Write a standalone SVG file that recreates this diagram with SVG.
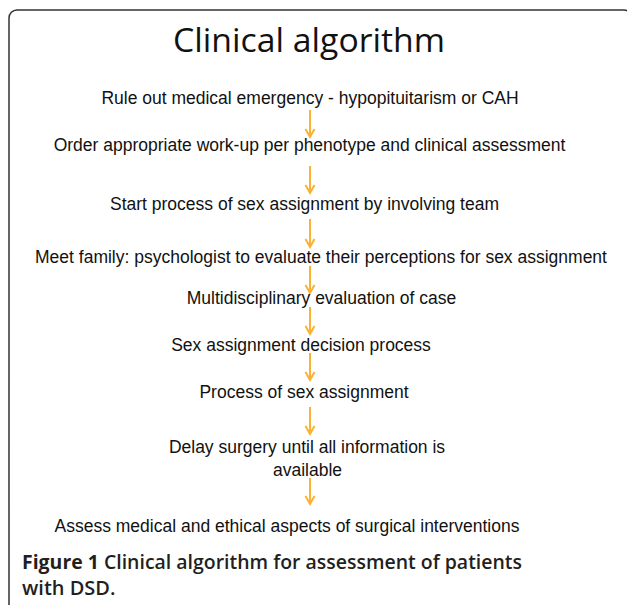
<svg xmlns="http://www.w3.org/2000/svg" width="627" height="605" viewBox="0 0 627 605">
<style>
.t{font-family:"Liberation Sans",Arial,sans-serif;font-size:17.5px;fill:#111;text-anchor:middle}
.title{font-family:"Open Sans","Liberation Sans",sans-serif;font-size:32px;fill:#111;text-anchor:middle}
.cap{font-family:"Open Sans","Liberation Sans",sans-serif;font-size:20px;font-weight:600;fill:#231f20}
.arrow{stroke:#F9B233;stroke-width:2;fill:none;marker-end:url(#ah)}
</style>
<defs>
<marker id="ah" markerUnits="userSpaceOnUse" markerWidth="12" markerHeight="12" viewBox="-10 -6 12 12" refX="0" refY="0" orient="auto" overflow="visible">
<path d="M-8,-4.5 L0,0 L-8,4.5" fill="none" stroke="#F9B233" stroke-width="2"/>
</marker>
</defs>
<rect x="9" y="10" width="623" height="620" rx="8" fill="#fff" stroke="#333" stroke-width="1.5"/>
<text class="title" x="309" y="52" textLength="272" lengthAdjust="spacingAndGlyphs">Clinical algorithm</text>
<g id="connectors">
<line class="arrow" x1="310" y1="110" x2="310" y2="137"/>
<line class="arrow" x1="310" y1="166" x2="310" y2="193"/>
<line class="arrow" x1="310" y1="219" x2="310" y2="247"/>
<line class="arrow" x1="310" y1="266" x2="310" y2="293"/>
<line class="arrow" x1="310" y1="307" x2="310" y2="334"/>
<line class="arrow" x1="310" y1="353" x2="310" y2="380"/>
<line class="arrow" x1="310" y1="407" x2="310" y2="434"/>
<line class="arrow" x1="310" y1="478" x2="310" y2="504"/>
</g>
<g id="n1"><text class="t" x="310" y="104">Rule out medical emergency - hypopituitarism or CAH</text></g>
<g id="n2"><text class="t" x="309.5" y="151">Order appropriate work-up per phenotype and clinical assessment</text></g>
<g id="n3"><text class="t" x="304.5" y="210">Start process of sex assignment by involving team</text></g>
<g id="n4"><text class="t" x="321" y="263">Meet family: psychologist to evaluate their perceptions for sex assignment</text></g>
<g id="n5"><text class="t" x="321.5" y="304">Multidisciplinary evaluation of case</text></g>
<g id="n6"><text class="t" x="301" y="351">Sex assignment decision process</text></g>
<g id="n7"><text class="t" x="304" y="398">Process of sex assignment</text></g>
<g id="n8"><text class="t" x="307" y="453">Delay surgery until all information is</text><text class="t" x="307.5" y="476">available</text></g>
<g id="n9"><text class="t" x="287" y="532">Assess medical and ethical aspects of surgical interventions</text></g>
<g id="caption">
<text class="cap" x="22" y="569" textLength="500" lengthAdjust="spacingAndGlyphs"><tspan font-weight="bold">Figure 1</tspan> Clinical algorithm for assessment of patients</text>
<text class="cap" x="22" y="595">with DSD.</text>
</g>
</svg>
